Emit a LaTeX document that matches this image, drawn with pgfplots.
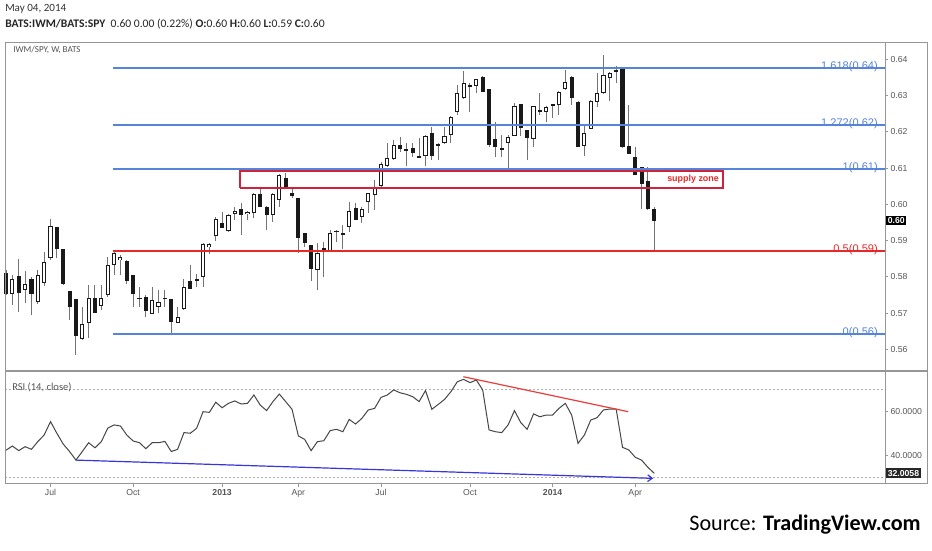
\documentclass[border=0pt]{standalone}
\usepackage{fontspec}
\setmainfont{Carlito}
\newfontfamily\arialf{Liberation Sans}
\usepackage{pgfplots}
\usepackage{pgfplotstable}
\pgfplotsset{compat=1.18}
\usetikzlibrary{arrows.meta}

\definecolor{fibblue}{RGB}{85,132,218}
\definecolor{fibred}{RGB}{232,40,40}
\definecolor{zonered}{RGB}{205,35,60}
\definecolor{framegray}{RGB}{150,150,150}
\definecolor{txtgray}{RGB}{85,85,85}
\definecolor{wickgray}{RGB}{115,115,115}
\definecolor{bodyblack}{RGB}{25,25,25}
\definecolor{rsiline}{RGB}{70,70,70}
\definecolor{trendblue}{RGB}{55,55,215}
\definecolor{trendred}{RGB}{235,60,60}
\definecolor{dotgray}{RGB}{175,175,175}

\pgfplotstableread{
w o h l c r
-7 0.5811 0.5819 0.5750 0.5754 42.5
-6 0.5752 0.5805 0.5722 0.5794 44.4
-5 0.5803 0.5849 0.5703 0.5756 42.3
-4 0.5764 0.5817 0.5728 0.5780 44.1
-3 0.5794 0.5800 0.5695 0.5752 42.9
-2 0.5730 0.5819 0.5725 0.5805 46.4
-1 0.5782 0.5869 0.5775 0.5840 49.4
0 0.5851 0.5959 0.5846 0.5941 55.5
1 0.5937 0.5937 0.5851 0.5876 50.2
2 0.5876 0.5876 0.5778 0.5780 45.3
3 0.5762 0.5762 0.5681 0.5716 41.9
4 0.5738 0.5740 0.5584 0.5637 38.0
5 0.5628 0.5716 0.5625 0.5670 41.9
6 0.5672 0.5777 0.5630 0.5743 45.9
7 0.5743 0.5777 0.5701 0.5701 43.6
8 0.5719 0.5777 0.5708 0.5743 46.4
9 0.5750 0.5855 0.5745 0.5834 52.5
10 0.5833 0.5869 0.5805 0.5865 54.0
11 0.5846 0.5860 0.5805 0.5855 53.5
12 0.5844 0.5846 0.5780 0.5789 49.4
13 0.5805 0.5805 0.5718 0.5752 46.7
14 0.5743 0.5771 0.5718 0.5740 45.9
15 0.5745 0.5750 0.5690 0.5706 43.2
16 0.5697 0.5771 0.5697 0.5736 45.9
17 0.5716 0.5764 0.5699 0.5731 45.9
18 0.5742 0.5764 0.5718 0.5741 46.5
19 0.5739 0.5740 0.5644 0.5676 41.9
20 0.5674 0.5718 0.5672 0.5690 42.9
21 0.5710 0.5793 0.5708 0.5771 50.5
22 0.5789 0.5833 0.5766 0.5766 50.2
23 0.5791 0.5808 0.5772 0.5792 52.5
24 0.5799 0.5894 0.5773 0.5891 60.0
25 0.5883 0.5893 0.5862 0.5890 59.7
26 0.5913 0.5964 0.5900 0.5959 64.3
27 0.5949 0.5978 0.5934 0.5934 61.8
28 0.5927 0.5972 0.5925 0.5970 63.8
29 0.5973 0.5993 0.5957 0.5982 64.9
30 0.5986 0.6004 0.5915 0.5970 63.5
31 0.5973 0.5982 0.5957 0.5980 63.8
32 0.5975 0.6030 0.5961 0.6028 67.6
33 0.6028 0.6047 0.5992 0.5992 63.0
34 0.5993 0.5995 0.5929 0.5970 60.5
35 0.5970 0.6030 0.5952 0.6028 64.6
36 0.6012 0.6083 0.5993 0.6081 68.0
37 0.6072 0.6087 0.6047 0.6047 64.6
38 0.6030 0.6044 0.6017 0.6024 61.1
39 0.6017 0.6018 0.5866 0.5906 49.0
40 0.5922 0.5922 0.5881 0.5894 47.4
41 0.5888 0.5888 0.5788 0.5823 42.3
42 0.5819 0.5892 0.5764 0.5866 46.4
43 0.5879 0.5897 0.5800 0.5869 46.8
44 0.5869 0.5929 0.5869 0.5922 51.4
45 0.5924 0.5929 0.5897 0.5927 52.0
46 0.5920 0.5943 0.5876 0.5918 50.9
47 0.5937 0.6007 0.5924 0.5982 56.5
48 0.5989 0.6004 0.5957 0.5957 54.4
49 0.5964 0.5993 0.5948 0.5986 57.0
50 0.6006 0.6032 0.5975 0.6032 60.8
51 0.6026 0.6067 0.5984 0.6044 61.5
52 0.6050 0.6117 0.6048 0.6111 66.5
53 0.6106 0.6170 0.6104 0.6127 67.6
54 0.6124 0.6177 0.6122 0.6164 69.9
55 0.6164 0.6186 0.6145 0.6152 68.6
56 0.6153 0.6168 0.6106 0.6148 67.9
57 0.6154 0.6168 0.6131 0.6141 66.8
58 0.6133 0.6182 0.6129 0.6130 64.6
59 0.6133 0.6191 0.6106 0.6188 69.6
60 0.6196 0.6214 0.6122 0.6133 61.1
61 0.6165 0.6168 0.6122 0.6164 63.3
62 0.6168 0.6214 0.6167 0.6188 65.6
63 0.6191 0.6244 0.6168 0.6242 69.1
64 0.6255 0.6329 0.6246 0.6306 73.6
65 0.6292 0.6369 0.6290 0.6335 74.7
66 0.6328 0.6334 0.6255 0.6323 73.2
67 0.6326 0.6346 0.6306 0.6345 74.4
68 0.6352 0.6354 0.6311 0.6311 69.9
69 0.6317 0.6318 0.6157 0.6164 51.7
70 0.6179 0.6228 0.6130 0.6157 50.9
71 0.6154 0.6191 0.6131 0.6152 50.5
72 0.6168 0.6191 0.6095 0.6185 54.0
73 0.6188 0.6279 0.6188 0.6271 60.5
74 0.6277 0.6277 0.6188 0.6212 55.0
75 0.6205 0.6205 0.6122 0.6182 52.0
76 0.6179 0.6271 0.6157 0.6271 59.0
77 0.6259 0.6306 0.6246 0.6258 57.7
78 0.6255 0.6271 0.6228 0.6268 58.5
79 0.6277 0.6278 0.6237 0.6272 58.5
80 0.6274 0.6314 0.6246 0.6311 61.5
81 0.6317 0.6370 0.6316 0.6338 63.8
82 0.6352 0.6353 0.6274 0.6292 58.5
83 0.6283 0.6284 0.6158 0.6159 45.6
84 0.6162 0.6219 0.6133 0.6196 49.4
85 0.6208 0.6287 0.6207 0.6286 56.2
86 0.6283 0.6361 0.6269 0.6308 57.3
87 0.6306 0.6412 0.6305 0.6357 60.8
88 0.6348 0.6366 0.6286 0.6363 61.2
89 0.6366 0.6382 0.6334 0.6370 61.2
90 0.6372 0.6374 0.6155 0.6157 43.8
91 0.6161 0.6274 0.6139 0.6139 42.6
92 0.6130 0.6157 0.6081 0.6081 39.3
93 0.6104 0.6104 0.5986 0.6056 38.0
94 0.6064 0.6104 0.5984 0.5986 34.7
95 0.5986 0.5992 0.5874 0.5955 32.0
}\candles

\pgfplotsset{
  candlebar/.style 2 args={forget plot, draw=none, mark=none,
    error bars/.cd, y dir=both, y explicit, error mark=none,
    error bar style={draw=#1, line width=#2}},
  fibline/.style={forget plot, mark=none, color=#1, draw=#1, line width=1pt},
}

\begin{document}
\begin{tikzpicture}
\useasboundingbox (0,0) rectangle (699pt,412.5pt);
\fill[white] (0,0) rectangle (699pt,412.5pt);

\begin{axis}[
  at={(3.75pt,135pt)}, anchor=south west, scale only axis,
  width=660pt, height=245.25pt,
  xmin=-7.16, xmax=131.3, ymin=0.5543, ymax=0.6445,
  clip=false,
  axis line style={draw=none},
  xtick=\empty,
  ytick={0.56,0.57,0.58,0.59,0.60,0.61,0.62,0.63,0.64},
  ytick pos=right, yticklabel pos=right,
  tick align=outside, major tick length=2.5pt,
  tick style={draw=framegray, line width=0.5pt},
  yticklabel style={font=\arialf\fontsize{6.5}{8}\selectfont, text=txtgray, inner sep=1.5pt,
    /pgf/number format/fixed, /pgf/number format/fixed zerofill,
    /pgf/number format/precision=2, /pgf/number format/assume math mode=true},
]
% wicks
\addplot[candlebar={wickgray}{0.75pt}]
  table[x=w, y expr={(\thisrow{h}+\thisrow{l})/2}, y error expr={(\thisrow{h}-\thisrow{l})/2}] {\candles};
% body outline / black bodies
\addplot[candlebar={bodyblack}{3.1pt}]
  table[x=w, y expr={(\thisrow{o}+\thisrow{c})/2}, y error expr={max(abs(\thisrow{o}-\thisrow{c})/2,0.00013)}] {\candles};
% white bodies
\addplot[candlebar={white}{1.6pt}]
  table[x=w, y expr={(\thisrow{o}+\thisrow{c})/2}, y error expr={max((\thisrow{c}-\thisrow{o})/2-0.00028,0)}] {\candles};

% Fibonacci levels (drawn over the candles)
\addplot[fibline=fibblue] coordinates {(9.83,0.63760) (131.3,0.63760)};
\addplot[fibline=fibblue] coordinates {(9.83,0.62188) (131.3,0.62188)};
\addplot[fibline=fibblue] coordinates {(9.83,0.60974) (131.3,0.60974)};
\addplot[fibline=fibred] coordinates {(9.83,0.58713) (131.3,0.58713)};
\addplot[fibline=fibblue] coordinates {(9.83,0.56420) (131.3,0.56420)};

% supply zone
\addplot[draw=zonered, color=zonered, line width=1.1pt, line join=miter, mark=none, forget plot] coordinates {(29.8,0.6045) (105.8,0.6045) (105.8,0.6092) (29.8,0.6092) (29.8,0.6045)};
\node[font=\arialf\bfseries\fontsize{6.7}{8}\selectfont, text=fibred, inner sep=0pt] at (axis cs:101.1,0.6069) {supply zone};

% fib labels
\node[anchor=base east, font=\arialf\fontsize{8.3}{10}\selectfont, text=fibblue, inner sep=0pt, yshift=-1.3pt] at (axis cs:130.2,0.63760) {1.618(0.64)};
\node[anchor=base east, font=\arialf\fontsize{8.3}{10}\selectfont, text=fibblue, inner sep=0pt, yshift=-1.3pt] at (axis cs:130.2,0.62188) {1.272(0.62)};
\node[anchor=base east, font=\arialf\fontsize{8.3}{10}\selectfont, text=fibblue, inner sep=0pt, yshift=-1.3pt] at (axis cs:130.2,0.60974) {1(0.61)};
\node[anchor=base east, font=\arialf\fontsize{8.3}{10}\selectfont, text=fibred, inner sep=0pt, yshift=-1.3pt] at (axis cs:130.2,0.58713) {0.5(0.59)};
\node[anchor=base east, font=\arialf\fontsize{8.3}{10}\selectfont, text=fibblue, inner sep=0pt, yshift=-1.3pt] at (axis cs:130.2,0.56420) {0(0.56)};

% last price box
\node[anchor=west, fill=black, text=white, font=\arialf\bfseries\fontsize{6.5}{8}\selectfont, inner sep=1.3pt, xshift=0.6pt] at (axis cs:131.3,0.5955) {0.60};
\end{axis}

\begin{axis}[
  at={(3.75pt,49.5pt)}, anchor=south west, scale only axis,
  width=660pt, height=84.75pt,
  xmin=-7.16, xmax=131.3, ymin=27.14, ymax=78.5,
  clip=false,
  axis line style={draw=none},
  xtick={0,13,27,39,52,66,79,92},
  xticklabels={Jul,Oct,\textbf{2013},Apr,Jul,Oct,\textbf{2014},Apr},
  xtick pos=bottom,
  ytick={40,60},
  ytick pos=right, yticklabel pos=right,
  tick align=outside, major tick length=2.5pt,
  tick style={draw=framegray, line width=0.5pt},
  xticklabel style={font=\arialf\fontsize{6.5}{8}\selectfont, text=txtgray, inner sep=1.5pt},
  yticklabel style={font=\arialf\fontsize{6.5}{8}\selectfont, text=txtgray, inner sep=1.5pt,
    /pgf/number format/fixed, /pgf/number format/fixed zerofill,
    /pgf/number format/precision=4, /pgf/number format/assume math mode=true},
]
\addplot[draw=dotgray, line width=0.6pt, dash pattern=on 1.5pt off 1.5pt, mark=none, forget plot] coordinates {(-7.16,70) (131.3,70)};
\addplot[draw=dotgray, line width=0.6pt, dash pattern=on 1.5pt off 1.5pt, mark=none, forget plot] coordinates {(-7.16,30) (131.3,30)};
\addplot[draw=rsiline, line width=0.75pt, mark=none, forget plot] table[x=w, y=r] {\candles};
\addplot[draw=trendblue, color=trendblue, line width=0.9pt, mark=none, -{Straight Barb[length=3.5pt, width=5pt]}, forget plot] coordinates {(4,38.0) (94.84,29.7)};
\addplot[draw=trendred, color=trendred, line width=0.9pt, mark=none, forget plot] coordinates {(64.95,75.9) (90.9,60.0)};
\node[anchor=west, fill=black!85, text=white, font=\arialf\bfseries\fontsize{6.5}{8}\selectfont, inner sep=1.3pt, xshift=0.6pt] at (axis cs:131.3,32.0) {32.0058};
\end{axis}

\begin{scope}[x=0.75pt,y=0.75pt]
 \draw[framegray, line width=0.75pt] (5,507) rectangle (927,66);
 \draw[framegray, line width=0.75pt] (885,507) -- (885,66);
 \draw[framegray, line width=1.5pt] (5,179) -- (927,179);
 \node[anchor=west, font=\fontsize{8.3}{10}\selectfont, text=black!80, inner sep=0pt] at (5,541) {May 04, 2014};
 \node[anchor=west, font=\fontsize{8.7}{10}\selectfont, text=black!85, inner sep=0pt] at (5,526) {\textbf{BATS:IWM/BATS:SPY}\ \ 0.60 0.00 (0.22\%) \textbf{O:}0.60 \textbf{H:}0.60 \textbf{L:}0.59 \textbf{C:}0.60};
 \node[anchor=west, font=\fontsize{6.8}{9}\selectfont, text=txtgray, inner sep=0pt] at (13,500) {IWM/SPY, W, BATS};
 \node[anchor=west, font=\fontsize{7.9}{10}\selectfont, text=txtgray, inner sep=0pt] at (12,163) {RSI (14, close)};
 \node[anchor=east, font=\fontsize{16.6}{20}\selectfont, text=black, inner sep=0pt] at (921,25) {Source: \textbf{TradingView.com}};
\end{scope}
\end{tikzpicture}
\end{document}
